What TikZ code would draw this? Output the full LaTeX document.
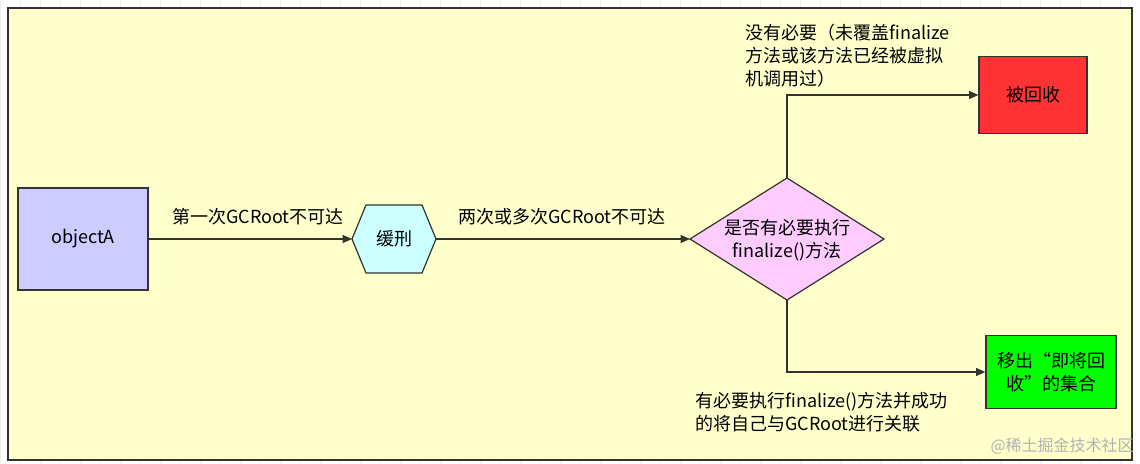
\documentclass[tikz,border=0pt]{standalone}
\usepackage{fontspec}
\setmainfont{Noto Sans CJK SC}
\usetikzlibrary{arrows.meta}
\definecolor{bgy}{HTML}{FFFFCC}
\definecolor{boxb}{HTML}{CCCCFF}
\definecolor{boxc}{HTML}{CCFFFF}
\definecolor{boxp}{HTML}{FFCCFF}
\definecolor{boxr}{HTML}{FF3333}
\definecolor{boxg}{HTML}{00FF00}
\definecolor{ln}{HTML}{333333}
\tikzset{
  box/.style={draw=ln, line width=0.9pt, inner sep=0pt, font=\fontsize{13.5}{17}\selectfont},
  conn/.style={draw=ln, line width=0.9pt, -{Triangle[length=7pt,width=6pt]}},
  lbl/.style={font=\fontsize{13.5}{17}\selectfont, text=black, inner sep=0pt}
}
\begin{document}
\begin{tikzpicture}[x=0.75pt,y=-0.75pt]
\useasboundingbox (0,0) rectangle (1140,464);
\fill[white] (0,0) rectangle (1140,464);
\draw[gray!12, step=20] (0,0) grid (1140,464);
\draw[fill=bgy, draw=ln, line width=0.9pt] (8,8) rectangle (1132,460);
\node[box, fill=boxb, minimum width=97.5pt, minimum height=76.5pt] (a) at (83,239) {objectA};
% hexagon
\draw[box, fill=boxc] (352,239) -- (366,205) -- (422,205) -- (436,239) -- (422,273) -- (366,273) -- cycle;
\coordinate (hl) at (352,239); \coordinate (hr) at (436,239);
\node[lbl] (h) at (394,239) {缓刑};
% diamond
\draw[box, fill=boxp] (690,239) -- (787,178) -- (884,239) -- (787,300) -- cycle;
\coordinate (dl) at (690,239); \coordinate (dt) at (787,178); \coordinate (db) at (787,300);
\node[lbl, align=center] (d) at (787,240) {是否有必要执行\\finalize()方法};
\node[box, fill=boxr, minimum width=81pt, minimum height=57.75pt] (r) at (1033,95) {被回收};
\node[box, fill=boxg, minimum width=97.5pt, minimum height=54.75pt, align=center] (g) at (1051,372) {移出“即将回\\收”的集合};
\draw[conn] (a.east) -- (hl);
\node[lbl] (l1) at (258,217) {第一次GCRoot不可达};
\draw[conn] (hr) -- (dl);
\node[lbl] (l2) at (562,217) {两次或多次GCRoot不可达};
\draw[conn] (dt) |- (r.west);
\node[lbl, align=left, anchor=north west] (l3) at (745,24) {没有必要（未覆盖finalize\\方法或该方法已经被虚拟\\机调用过）};
\draw[conn] (db) |- (g.west);
\node[lbl, align=left, anchor=north west] (l4) at (695,392) {有必要执行finalize()方法并成功\\的将自己与GCRoot进行关联};
\node[lbl, text=gray!60, anchor=east, font=\fontsize{12}{14}\selectfont] (wm) at (1134,446) {@稀土掘金技术社区};
\end{tikzpicture}
\end{document}
